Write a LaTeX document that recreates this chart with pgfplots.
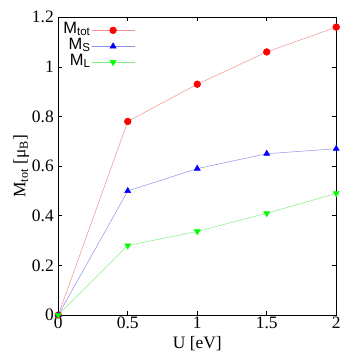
\documentclass[border={10pt 5pt 6pt 8pt}]{standalone}
\usepackage{fontspec}
\setmainfont{Liberation Serif}
\setsansfont{Liberation Sans}
\usepackage{pgfplots}
\pgfplotsset{compat=1.18}
\definecolor{linered}{HTML}{F29090}
\definecolor{lineblue}{HTML}{9090F2}
\definecolor{linegreen}{HTML}{80EE80}

\begin{document}
\begin{tikzpicture}
\begin{axis}[
    scale only axis,
    width=279pt,
    height=299pt,
    xmin=0, xmax=2,
    ymin=0, ymax=1.2,
    xtick={0,0.5,1,1.5,2},
    ytick={0,0.2,0.4,0.6,0.8,1,1.2},
    xticklabels={0,0.5,1,1.5,2},
    yticklabels={0,0.2,0.4,0.6,0.8,1,1.2},
    tick align=inside,
    major tick length=4pt,
    tick style={black, line width=0.6pt},
    axis line style={line width=0.8pt},
    ticklabel style={font=\fontsize{17.5}{20}\selectfont},
    xticklabel style={yshift=2pt},
    yticklabel style={xshift=-1pt},
    xlabel={U [eV]},
    ylabel={M\textsubscript{tot} [μ\textsubscript{B}]},
    label style={font=\fontsize{17.5}{20}\selectfont},
    xlabel style={yshift=-1pt},
    ylabel style={yshift=-4pt},
    legend style={at={(0,1)}, anchor=north west, xshift=4pt, yshift=-5pt,
        draw=none, fill=none, inner sep=0pt,
        font=\sffamily\fontsize{16.5}{16.5}\selectfont, row sep=0pt,
        nodes={inner sep=1pt, text height=10pt, text depth=4pt}},
    legend cell align=right,
    legend plot pos=right,
    legend image code/.code={
        \draw[mark repeat=2, mark phase=2] plot coordinates {(6pt,0pt) (27.5pt,0pt) (49pt,0pt)};
    },
    clip=false,
]
\addplot[color=linered, line width=0.5pt, mark=*, mark size=3.4pt,
    mark options={draw=red, fill=red}] coordinates {
    (0,0) (0.5,0.78) (1,0.93) (1.5,1.06) (2,1.16)
};
\addplot[color=lineblue, line width=0.5pt, mark=triangle*, mark size=3.5pt,
    mark options={draw=blue, fill=blue}] coordinates {
    (0,0) (0.5,0.50) (1,0.59) (1.5,0.65) (2,0.67)
};
\addplot[color=linegreen, line width=0.5pt, mark=triangle*, mark size=3.5pt,
    mark options={draw=green, fill=green, rotate=180}] coordinates {
    (0,0) (0.5,0.28) (1,0.337) (1.5,0.41) (2,0.49)
};
\legend{M\textsubscript{tot}, M\textsubscript{S}, M\textsubscript{L}}
\end{axis}
\end{tikzpicture}
\end{document}
